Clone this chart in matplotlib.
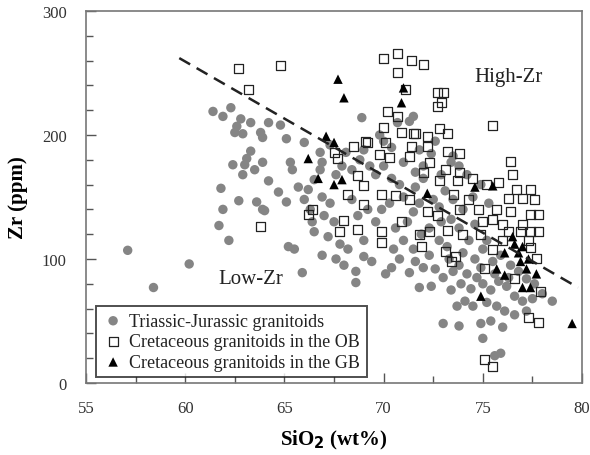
import matplotlib
matplotlib.use("Agg")
import matplotlib.pyplot as plt
from matplotlib.ticker import MultipleLocator

# (SiO2 wt%, Zr ppm)
tj_pts = [  # Triassic-Jurassic granitoids
    (57.1, 107), (58.4, 77), (60.2, 96),
    (61.4, 219), (61.9, 215), (62.3, 222), (62.8, 213), (62.6, 207), (62.5, 202), (62.9, 201),
    (63.3, 210), (63.8, 202), (63.9, 198), (64.2, 210), (64.8, 208), (65.1, 197), (66.0, 194),
    (66.8, 186), (63.3, 187), (63.1, 181), (63.0, 176), (62.4, 176), (62.9, 168), (63.5, 172),
    (63.9, 178), (64.2, 163), (64.7, 154), (65.3, 178), (65.4, 172), (61.8, 157), (65.7, 158),
    (66.2, 156), (66.5, 164), (66.8, 172),
    (62.7, 147), (63.6, 146), (63.9, 140), (65.1, 146), (61.9, 140), (61.7, 127), (62.2, 115),
    (64.0, 139), (65.2, 110), (65.5, 108), (65.9, 89), (66.9, 103), (66.4, 130), (66.5, 122),
    (66.0, 148), (66.3, 140), (66.9, 150), (67.3, 145), (67.0, 135), (67.5, 130), (67.2, 118),
    (67.8, 112), (68.2, 108), (67.6, 100), (68.0, 95), (68.6, 90), (68.6, 81), (69.0, 102),
    (69.4, 98), (69.0, 115), (68.7, 135), (69.2, 140), (68.4, 148), (69.6, 130), (69.9, 140),
    (70.3, 145), (67.6, 168), (67.9, 175), (68.4, 172), (68.8, 180), (69.3, 175), (69.6, 168),
    (70.0, 175), (70.4, 165), (69.0, 188), (68.1, 186), (66.9, 178), (68.9, 214), (70.7, 210),
    (71.3, 211), (71.5, 215), (69.8, 200), (70.4, 190), (67.3, 192),
    (70.1, 88), (70.4, 93), (70.8, 100), (70.5, 108), (71.0, 115), (70.6, 125), (71.3, 89),
    (71.8, 77), (72.4, 78), (71.6, 98), (72.0, 93), (72.3, 103), (71.5, 108), (71.2, 130),
    (71.5, 138), (71.0, 150), (71.6, 158), (72.0, 165), (71.8, 145), (70.8, 160), (72.5, 148),
    (72.8, 142), (73.1, 155), (73.5, 148), (72.4, 185), (71.8, 188), (72.6, 195),
    (72.8, 115), (73.2, 110), (72.6, 92), (73.0, 85), (73.5, 90), (73.8, 95), (74.2, 88),
    (73.4, 75), (73.9, 80), (74.4, 76), (74.7, 85), (75.0, 80), (75.4, 75), (75.8, 82),
    (76.2, 78), (76.6, 70), (77.0, 66), (77.5, 68), (78.0, 72), (78.5, 66), (75.2, 65),
    (75.7, 62), (76.1, 58), (76.6, 55), (77.2, 58), (74.5, 62), (74.1, 66), (73.7, 62),
    (73.0, 48), (73.8, 46), (74.9, 48), (75.0, 36), (75.6, 22), (75.9, 24), (75.4, 50),
    (76.0, 45), (74.0, 105), (74.6, 100), (75.0, 108), (74.3, 115), (73.8, 125), (74.6, 128),
    (73.4, 132), (74.0, 140), (75.2, 115), (75.5, 98), (75.9, 103), (76.4, 95), (76.8, 90),
    (77.2, 84), (77.6, 80), (76.3, 85), (75.6, 88), (74.9, 93), (73.3, 100), (72.9, 130),
    (72.3, 125), (71.9, 120), (74.5, 150), (74.9, 160), (75.3, 145), (73.8, 175), (73.5, 183),
    (74.2, 168), (70.0, 195), (71.0, 178), (72.0, 175), (71.6, 170), (72.9, 168), (73.4, 178),
]

ob_pts = [  # Cretaceous granitoids in the OB
    (62.7, 254), (63.2, 237), (64.8, 256),
    (70.0, 262), (70.7, 266), (71.4, 260), (72.0, 257), (70.7, 250), (71.1, 237), (73.0, 234),
    (72.9, 226), (75.5, 208), (70.2, 219), (70.7, 215), (70.0, 206), (76.4, 179), (76.5, 168),
    (75.8, 162), (76.7, 156), (77.4, 156), (70.9, 202), (71.5, 201), (72.2, 199), (72.8, 205),
    (73.2, 201), (70.1, 194), (69.2, 194), (68.5, 191), (71.4, 191), (72.2, 191), (73.2, 187),
    (73.8, 185), (67.7, 181), (70.3, 182), (71.3, 183), (72.3, 178), (73.1, 172), (72.0, 170),
    (73.8, 170), (72.8, 163), (73.7, 163), (69.8, 184), (69.1, 195), (67.5, 186), (69.0, 159),
    (68.7, 167), (69.9, 152), (70.6, 151), (71.3, 148), (68.2, 152), (69.0, 144), (71.6, 201),
    (72.7, 234), (72.7, 223),
    (68.0, 131), (68.7, 124), (67.8, 122), (72.2, 138), (72.7, 135), (69.9, 122), (70.9, 130),
    (71.8, 120), (72.3, 122), (73.2, 123), (74.0, 120), (74.9, 120), (71.9, 110), (69.9, 113),
    (73.1, 106), (73.6, 102), (73.4, 98), (75.1, 92), (75.5, 108), (76.6, 84), (77.3, 53),
    (77.8, 49), (75.1, 19), (75.5, 13), (75.7, 140), (76.3, 149), (77.0, 149), (77.6, 148),
    (76.4, 138), (77.4, 136), (77.8, 136), (76.3, 122), (76.9, 122), (77.4, 122), (77.8, 122),
    (77.9, 74), (77.4, 109), (77.7, 100), (75.5, 132),
    (63.8, 126), (66.2, 136), (66.4, 140),
    (73.5, 152), (74.3, 148), (74.8, 140), (73.8, 140), (75.0, 130), (76.0, 128), (77.0, 128),
    (76.0, 115), (77.3, 115), (74.5, 165), (75.2, 160),
]

gb_pts = [  # Cretaceous granitoids in the GB
    (67.7, 245), (68.0, 230), (71.0, 238), (70.9, 226), (67.1, 199), (67.5, 194), (66.2, 181),
    (66.7, 165), (67.5, 160), (67.9, 164), (72.2, 153), (74.6, 158), (75.5, 159), (76.6, 112),
    (76.1, 105), (76.8, 105), (77.3, 100), (77.2, 92), (77.7, 88), (75.7, 92), (76.1, 87),
    (77.0, 77), (77.4, 77), (74.9, 70), (79.5, 48), (76.9, 98), (76.5, 118), (77.0, 110),
]

boundary_x = [59.7, 79.8]
boundary_y = [262, 77]

plt.rcParams["font.family"] = ["Liberation Serif", "DejaVu Serif"]

fig = plt.figure(figsize=(5.9, 4.56), dpi=100)
ax = fig.add_axes([0.1458, 0.1579, 0.8407, 0.8158])

ax.scatter(*zip(*tj_pts), s=46, marker="o", color="#858585", edgecolors="none",
           label="Triassic-Jurassic granitoids", zorder=2)
ax.scatter(*zip(*ob_pts), s=42, marker="s", facecolors="none", edgecolors="#222222",
           linewidths=0.9, label="Cretaceous granitoids in the OB", zorder=3)
ax.scatter(*zip(*gb_pts), s=46, marker="^", color="black", edgecolors="none",
           label="Cretaceous granitoids in the GB", zorder=4)
ax.plot(boundary_x, boundary_y, color="#222222", lw=1.8, dashes=(5, 3), zorder=5)

ax.text(76.3, 247, "High-Zr", fontsize=15, ha="center", va="center", color="#222222")
ax.text(63.3, 84, "Low-Zr", fontsize=15, ha="center", va="center", color="#222222")

ax.set_xlim(55, 80)
ax.set_ylim(0, 300)
ax.xaxis.set_major_locator(MultipleLocator(5))
ax.xaxis.set_minor_locator(MultipleLocator(2.5))
ax.yaxis.set_major_locator(MultipleLocator(100))
ax.yaxis.set_minor_locator(MultipleLocator(20))
ax.tick_params(which="both", direction="in", top=False, right=False, colors="#555555",
               labelcolor="#333333", labelsize=12)
ax.tick_params(which="major", length=7, width=1)
ax.tick_params(which="minor", length=5, width=1)
ax.tick_params(axis="x", pad=12)
ax.tick_params(axis="y", pad=14)
for sp in ax.spines.values():
    sp.set_color("#777777")
    sp.set_linewidth(1.2)

ax.set_xlabel("SiO$_\\mathbf{2}$ (wt%)", fontsize=15, fontweight="bold", labelpad=9)
ax.set_ylabel("Zr (ppm)", fontsize=15, fontweight="bold", labelpad=10)

leg = ax.legend(loc="lower left", bbox_to_anchor=(0.02, 0.016), borderaxespad=0,
                fontsize=13, frameon=True, fancybox=False, labelspacing=0.2,
                handletextpad=0.3, borderpad=0.35, handlelength=1.2)
leg.get_frame().set_edgecolor("#222222")
leg.get_frame().set_linewidth(1.4)
for t in leg.get_texts():
    t.set_color("#222222")

fig.savefig("out.png", dpi=100)
